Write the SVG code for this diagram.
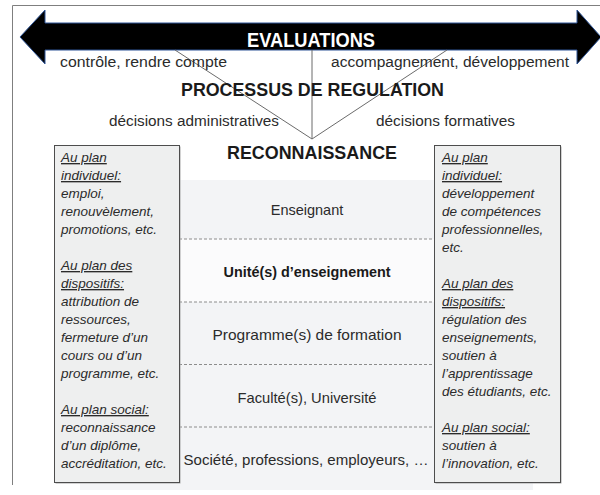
<svg xmlns="http://www.w3.org/2000/svg" width="600" height="495" viewBox="0 0 600 495">
<style>
text{font-family:"Liberation Sans",Arial,sans-serif;fill:#2b2b2b}
.lbl{font-size:14px}
.head{font-size:18px;font-weight:bold;fill:#1a1a1a}
.row{font-size:14.5px;text-anchor:middle}
.box{fill:#eeefef;stroke:#4d4d4d;stroke-width:1}
.shadow{fill:#a6a6a6}
.bt{font-size:13.5px;font-style:italic}
.u{text-decoration:underline}
.dash{stroke:#8c8c8c;stroke-width:1;stroke-dasharray:3 2;fill:none}
.conn{stroke:#6b6b6b;stroke-width:1;fill:none}
</style>
<rect width="600" height="495" fill="#ffffff"/>
<path d="M12.5,485 V5.5 H600" fill="none" stroke="#7f7f7f" stroke-width="1"/>
<g id="band">
<rect x="80" y="180" width="453" height="310" fill="#f3f4f6"/>
<rect x="179" y="239" width="255" height="63" fill="#fbfbfc"/>
</g>
<g id="arrow">
<path d="M20,37 L45,10 L45,23 L577,23 L577,10 L601,37 L577,64 L577,50 L45,50 L45,64 Z" fill="#000000" stroke="#2f5597" stroke-width="1"/>
<text x="311" y="47" text-anchor="middle" style="font-size:20px;font-weight:bold;fill:#ffffff" textLength="128" lengthAdjust="spacingAndGlyphs">EVALUATIONS</text>
</g>
<g id="connectors">
<line class="conn" x1="175" y1="50" x2="312" y2="139"/>
<line class="conn" x1="312" y1="50" x2="312" y2="139"/>
<line class="conn" x1="447" y1="50" x2="312" y2="139"/>
<line class="dash" x1="179" y1="239" x2="434" y2="239"/>
<line class="dash" x1="179" y1="302" x2="434" y2="302"/>
<line class="dash" x1="179" y1="364.5" x2="434" y2="364.5"/>
<line class="dash" x1="179" y1="427" x2="434" y2="427"/>
</g>
<g id="labels">
<text class="lbl" x="60" y="67" textLength="167" lengthAdjust="spacingAndGlyphs">contrôle, rendre compte</text>
<text class="lbl" x="331" y="67" textLength="238" lengthAdjust="spacingAndGlyphs">accompagnement, développement</text>
<text class="head" x="181" y="96" textLength="263" lengthAdjust="spacingAndGlyphs">PROCESSUS DE REGULATION</text>
<text class="lbl" x="109" y="126" textLength="170" lengthAdjust="spacingAndGlyphs">décisions administratives</text>
<text class="lbl" x="376" y="126" textLength="139" lengthAdjust="spacingAndGlyphs">décisions formatives</text>
<text class="head" x="227" y="159" textLength="170" lengthAdjust="spacingAndGlyphs">RECONNAISSANCE</text>
</g>
<g id="row-enseignant"><text class="row" x="307" y="215">Enseignant</text></g>
<g id="row-unite"><text class="row" x="307" y="277" style="font-weight:bold;fill:#1a1a1a" textLength="167" lengthAdjust="spacingAndGlyphs">Unité(s) d’enseignement</text></g>
<g id="row-programme"><text class="row" x="307" y="340" textLength="189" lengthAdjust="spacingAndGlyphs">Programme(s) de formation</text></g>
<g id="row-faculte"><text class="row" x="307" y="403" textLength="139" lengthAdjust="spacingAndGlyphs">Faculté(s), Université</text></g>
<g id="row-societe"><text class="row" x="306" y="465" textLength="245" lengthAdjust="spacingAndGlyphs">Société, professions, employeurs, …</text></g>
<g id="box-left">
<rect class="shadow" x="55.5" y="146.5" width="125" height="337"/>
<rect class="box" x="54.5" y="145.5" width="125" height="337"/>
<text class="bt" x="61" y="162"><tspan class="u">Au plan</tspan></text>
<text class="bt" x="61" y="180"><tspan class="u">individuel:</tspan></text>
<text class="bt" x="61" y="198">emploi,</text>
<text class="bt" x="61" y="216">renouvèlement,</text>
<text class="bt" x="61" y="234">promotions, etc.</text>
<text class="bt" x="61" y="270"><tspan class="u">Au plan des</tspan></text>
<text class="bt" x="61" y="288"><tspan class="u">dispositifs:</tspan></text>
<text class="bt" x="61" y="306">attribution de</text>
<text class="bt" x="61" y="324">ressources,</text>
<text class="bt" x="61" y="342">fermeture d’un</text>
<text class="bt" x="61" y="360">cours ou d’un</text>
<text class="bt" x="61" y="378">programme, etc.</text>
<text class="bt" x="61" y="414"><tspan class="u">Au plan social:</tspan></text>
<text class="bt" x="61" y="432">reconnaissance</text>
<text class="bt" x="61" y="450">d’un diplôme,</text>
<text class="bt" x="61" y="468">accréditation, etc.</text>
</g>
<g id="box-right">
<rect class="shadow" x="435.5" y="146.5" width="126" height="337"/>
<rect class="box" x="434.5" y="145.5" width="126" height="337"/>
<text class="bt" x="442" y="162"><tspan class="u">Au plan</tspan></text>
<text class="bt" x="442" y="180"><tspan class="u">individuel:</tspan></text>
<text class="bt" x="442" y="198">développement</text>
<text class="bt" x="442" y="216">de compétences</text>
<text class="bt" x="442" y="234">professionnelles,</text>
<text class="bt" x="442" y="252">etc.</text>
<text class="bt" x="442" y="288"><tspan class="u">Au plan des</tspan></text>
<text class="bt" x="442" y="306"><tspan class="u">dispositifs:</tspan></text>
<text class="bt" x="442" y="324">régulation des</text>
<text class="bt" x="442" y="342">enseignements,</text>
<text class="bt" x="442" y="360">soutien à</text>
<text class="bt" x="442" y="378">l’apprentissage</text>
<text class="bt" x="442" y="396">des étudiants, etc.</text>
<text class="bt" x="442" y="432"><tspan class="u">Au plan social:</tspan></text>
<text class="bt" x="442" y="450">soutien à</text>
<text class="bt" x="442" y="468">l’innovation, etc.</text>
</g>
</svg>
